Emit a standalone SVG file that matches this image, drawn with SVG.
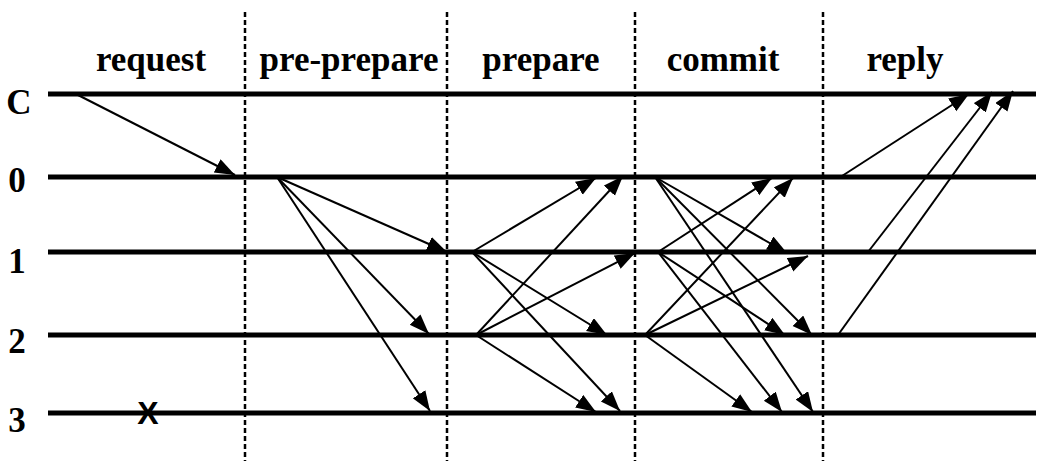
<svg xmlns="http://www.w3.org/2000/svg" width="1061" height="461" viewBox="0 0 1061 461">
  <defs>
    <marker id="ah" markerUnits="userSpaceOnUse" markerWidth="22" markerHeight="16" refX="20" refY="7.5" orient="auto">
      <path d="M0,0 L20,7.5 L0,15 z" fill="#000"/>
    </marker>
    <style>
      .phase { font-family: "Liberation Serif", "Times New Roman", serif; font-weight: bold; font-size: 35px; fill: #000; text-anchor: middle; }
      .row { font-family: "Liberation Serif", "Times New Roman", serif; font-weight: bold; font-size: 35px; fill: #000; text-anchor: middle; }
      .tl { stroke: #000; stroke-width: 5; }
      .sep { stroke: #000; stroke-width: 2.5; stroke-dasharray: 5 3; }
      .msg line { stroke: #000; stroke-width: 2; marker-end: url(#ah); }
    </style>
  </defs>
  <rect width="1061" height="461" fill="#fff"/>

  <g id="phases">
    <text class="phase" x="151" y="71">request</text>
    <text class="phase" x="349" y="71">pre-prepare</text>
    <text class="phase" x="541" y="71">prepare</text>
    <text class="phase" x="723" y="71">commit</text>
    <text class="phase" x="905" y="71">reply</text>
  </g>

  <g id="separators">
    <line class="sep" x1="245" y1="12" x2="245" y2="461"/>
    <line class="sep" x1="447" y1="12" x2="447" y2="461"/>
    <line class="sep" x1="635" y1="12" x2="635" y2="461"/>
    <line class="sep" x1="823" y1="12" x2="823" y2="461"/>
  </g>

  <g id="node-C">
    <text class="row" x="19" y="114">C</text>
    <line class="tl" x1="48" y1="94" x2="1036" y2="94"/>
  </g>
  <g id="node-0">
    <text class="row" x="17" y="192">0</text>
    <line class="tl" x1="48" y1="177" x2="1036" y2="177"/>
  </g>
  <g id="node-1">
    <text class="row" x="17" y="273">1</text>
    <line class="tl" x1="48" y1="252" x2="1036" y2="252"/>
  </g>
  <g id="node-2">
    <text class="row" x="17" y="353">2</text>
    <line class="tl" x1="48" y1="335" x2="1036" y2="335"/>
  </g>
  <g id="node-3">
    <text class="row" x="17" y="432">3</text>
    <line class="tl" x1="48" y1="413" x2="1036" y2="413"/>
    <text x="148" y="424" font-family="Liberation Sans, Arial, sans-serif" font-weight="bold" font-size="32" text-anchor="middle">X</text>
  </g>

  <g id="connectors" class="msg">
    <!-- request -->
    <line x1="76" y1="94" x2="235" y2="175"/>
    <!-- pre-prepare -->
    <line x1="277" y1="177" x2="447" y2="252"/>
    <line x1="277" y1="177" x2="429" y2="334"/>
    <line x1="277" y1="177" x2="430" y2="411"/>
    <!-- prepare -->
    <line x1="472" y1="252" x2="596" y2="178"/>
    <line x1="472" y1="252" x2="607" y2="335"/>
    <line x1="472" y1="252" x2="620" y2="411"/>
    <line x1="476" y1="335" x2="623" y2="176"/>
    <line x1="476" y1="335" x2="635" y2="253"/>
    <line x1="476" y1="335" x2="596" y2="412"/>
    <!-- commit -->
    <line x1="655" y1="177" x2="787" y2="253"/>
    <line x1="655" y1="177" x2="812" y2="335"/>
    <line x1="655" y1="177" x2="813" y2="412"/>
    <line x1="658" y1="252" x2="772" y2="178"/>
    <line x1="658" y1="252" x2="785" y2="335"/>
    <line x1="658" y1="252" x2="782" y2="412"/>
    <line x1="645" y1="335" x2="793" y2="178"/>
    <line x1="645" y1="335" x2="808" y2="256"/>
    <line x1="645" y1="335" x2="752" y2="412"/>
    <!-- reply -->
    <line x1="842" y1="176" x2="969" y2="94"/>
    <line x1="868" y1="252" x2="992" y2="92"/>
    <line x1="838" y1="335" x2="1013" y2="91"/>
  </g>
</svg>
